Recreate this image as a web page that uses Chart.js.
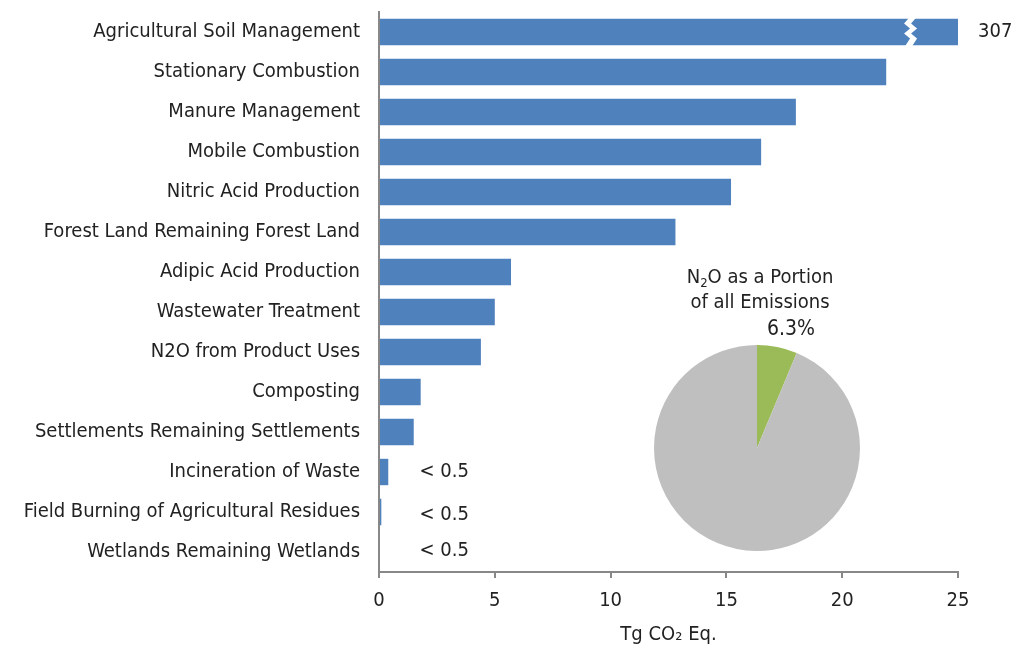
<!DOCTYPE html>
<html>
<head>
<meta charset="utf-8">
<script src="https://cdn.jsdelivr.net/npm/chart.js@4/dist/chart.umd.min.js"></script>
<style>
  body { margin: 0; background: #fff; font-family: "DejaVu Sans Condensed", "DejaVu Sans", sans-serif; }
  #wrap { position: relative; width: 1017px; height: 646px; }
  #pieBox { position: absolute; left: 654px; top: 345px; width: 206px; height: 206px; }
  .note { position: absolute; color: #222; font-size: 20px; text-align: center; white-space: nowrap; line-height: 25px; }
  sub { font-size: 13px; line-height: 0; vertical-align: -4px; }
</style>
</head>
<body>
<div id="wrap">
  <canvas id="bars" width="1017" height="646"></canvas>
  <div id="pieBox"><canvas id="pie"></canvas></div>
  <div class="note" style="left:620px; top:264px; width:280px;">N<sub>2</sub>O as a Portion<br>of all Emissions</div>
  <div class="note" style="left:767px; top:316px; font-size:21px;">6.3%</div>
</div>
<script>
const categories = [
  'Agricultural Soil Management', 'Stationary Combustion', 'Manure Management',
  'Mobile Combustion', 'Nitric Acid Production', 'Forest Land Remaining Forest Land',
  'Adipic Acid Production', 'Wastewater Treatment', 'N2O from Product Uses',
  'Composting', 'Settlements Remaining Settlements', 'Incineration of Waste',
  'Field Burning of Agricultural Residues', 'Wetlands Remaining Wetlands'
];
const emissions = [307, 21.9, 18.0, 16.5, 15.2, 12.8, 5.7, 5.0, 4.4, 1.8, 1.5, 0.4, 0.1, 0.0];
const valueLabels = ['307', '', '', '', '', '', '', '', '', '', '', '< 0.5', '< 0.5', '< 0.5'];
const axisMax = 25;

const pieLabels = ['N2O', 'Other gases'];
const pieShares = [6.3, 93.7];

const FONT = 'DejaVu Sans Condensed';

const labelPlugin = {
  id: 'barNotes',
  afterDatasetsDraw(chart) {
    const ctx = chart.ctx;
    const meta = chart.getDatasetMeta(0);
    const x = chart.scales.x;
    ctx.save();
    // axis break on the off-scale bar
    const b = meta.data[0];
    const h = b.height / 2 + 1;
    const bx = x.getPixelForValue(22.8);
    ctx.fillStyle = '#fff';
    ctx.beginPath();
    const zig = [[2, -h], [-3, -h * 0.6], [3, -h * 0.25], [-3, h * 0.1], [3, h * 0.45], [-2, h]];
    zig.forEach((p, i) => i ? ctx.lineTo(bx + p[0], b.y + p[1]) : ctx.moveTo(bx + p[0], b.y + p[1]));
    for (let i = zig.length - 1; i >= 0; i--) ctx.lineTo(bx + zig[i][0] + 7, b.y + zig[i][1]);
    ctx.closePath();
    ctx.fill();
    // value labels
    ctx.fillStyle = '#222';
    ctx.font = '20px "' + FONT + '"';
    ctx.textBaseline = 'middle';
    valueLabels.forEach((t, i) => {
      if (!t) return;
      const el = meta.data[i];
      const px = i === 0 ? chart.chartArea.right + 20 : x.getPixelForValue(1.75);
      ctx.fillText(t, px, el.y + (i === 12 ? 3 : i === 13 ? -1 : 0));
    });
    ctx.restore();
  }
};

new Chart(document.getElementById('bars'), {
  type: 'bar',
  data: {
    labels: categories,
    datasets: [{
      data: emissions,
      backgroundColor: '#4F81BD',
      categoryPercentage: 0.66,
      barPercentage: 1
    }]
  },
  options: {
    indexAxis: 'y',
    responsive: false,
    animation: false,
    layout: { padding: { left: 5, right: 59, top: 12, bottom: 0 } },
    plugins: { legend: { display: false }, tooltip: { enabled: false } },
    scales: {
      x: {
        min: 0, max: axisMax,
        ticks: { stepSize: 5, color: '#222', font: { size: 20, family: FONT }, padding: 11 },
        grid: { drawOnChartArea: false, color: '#888', tickLength: 6, lineWidth: 2 },
        border: { color: '#888', width: 2 },
        title: { display: true, text: 'Tg CO\u2082 Eq.', color: '#222', font: { size: 20, family: FONT }, padding: { top: 10, bottom: -1 } },
        afterFit(s) { s.height = 74; }
      },
      y: {
        ticks: { color: '#222', font: { size: 20, family: FONT }, padding: 11 },
        grid: { display: false },
        border: { color: '#888', width: 2 },
        afterFit(s) { s.width = 374; s.paddingTop = 0; s.paddingBottom = 0; }
      }
    }
  },
  plugins: [labelPlugin]
});

new Chart(document.getElementById('pie'), {
  type: 'pie',
  data: {
    labels: pieLabels,
    datasets: [{ data: pieShares, backgroundColor: ['#9BBB59', '#BFBFBF'], borderWidth: 0 }]
  },
  options: {
    responsive: true,
    maintainAspectRatio: false,
    animation: false,
    plugins: { legend: { display: false }, tooltip: { enabled: false } }
  }
});
</script>
</body>
</html>
